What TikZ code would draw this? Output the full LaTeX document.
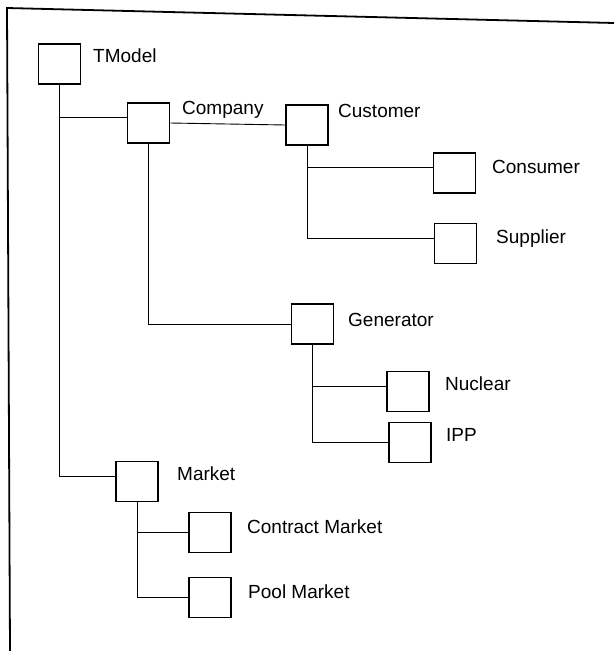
\documentclass[tikz,border=0pt]{standalone}
\usepackage{fontspec}
\setmainfont{Liberation Sans}

\tikzset{
  cls/.style={draw, line width=1.6pt, minimum width=42pt, minimum height=40pt, inner sep=0pt},
  lbl/.style={anchor=base west, inner sep=0pt, font=\fontsize{19}{22}\selectfont},
  link/.style={line width=0.9pt}
}

\begin{document}
\begin{tikzpicture}[x=1pt, y=-1pt]

\useasboundingbox (0,0) rectangle (614,651);

% page frame
\draw[line width=1.8pt] (10,651) -- (7,8) -- (614,23);

\node[cls] (tmodel) at (59.5,64) {};
\node[lbl] (tmodeltxt) at (93,62) {TModel};

\node[cls] (company) at (148.5,123) {};
\node[lbl] (companytxt) at (182,114) {Company};

\node[cls] (customer) at (307,125) {};
\node[lbl] (customertxt) at (338,117) {Customer};

\node[cls] (consumer) at (454.5,173) {};
\node[lbl] (consumertxt) at (492,173) {Consumer};

\node[cls] (supplier) at (455.5,243.5) {};
\node[lbl] (suppliertxt) at (496,243) {Supplier};

\node[cls] (generator) at (312.5,324) {};
\node[lbl] (generatortxt) at (348,326) {Generator};

\node[cls] (nuclear) at (408,391.5) {};
\node[lbl] (nucleartxt) at (445,390) {Nuclear};

\node[cls] (ipp) at (410,442.5) {};
\node[lbl] (ipptxt) at (446,441) {IPP};

\node[cls] (market) at (137,481.5) {};
\node[lbl] (markettxt) at (177,480) {Market};

\node[cls] (contract) at (210,532.5) {};
\node[lbl] (contracttxt) at (247,533) {Contract Market};

\node[cls] (pool) at (210,597.5) {};
\node[lbl] (pooltxt) at (248,598) {Pool Market};

% tree lines
\draw[link] (tmodel.south) |- (company.165);
\draw[link] (tmodel.south) |- (market.166);
\draw[link] (company.east) -- (customer.west);
\draw[link] (company.south) |- (generator.west);
\draw[link] (customer.south) |- (consumer.165);
\draw[link] (customer.south) |- (supplier.166);
\draw[link] (generator.south) |- (nuclear.168);
\draw[link] (generator.south) |- (ipp.west);
\draw[link] (market.south) |- (contract.west);
\draw[link] (market.south) |- (pool.west);

\end{tikzpicture}
\end{document}
